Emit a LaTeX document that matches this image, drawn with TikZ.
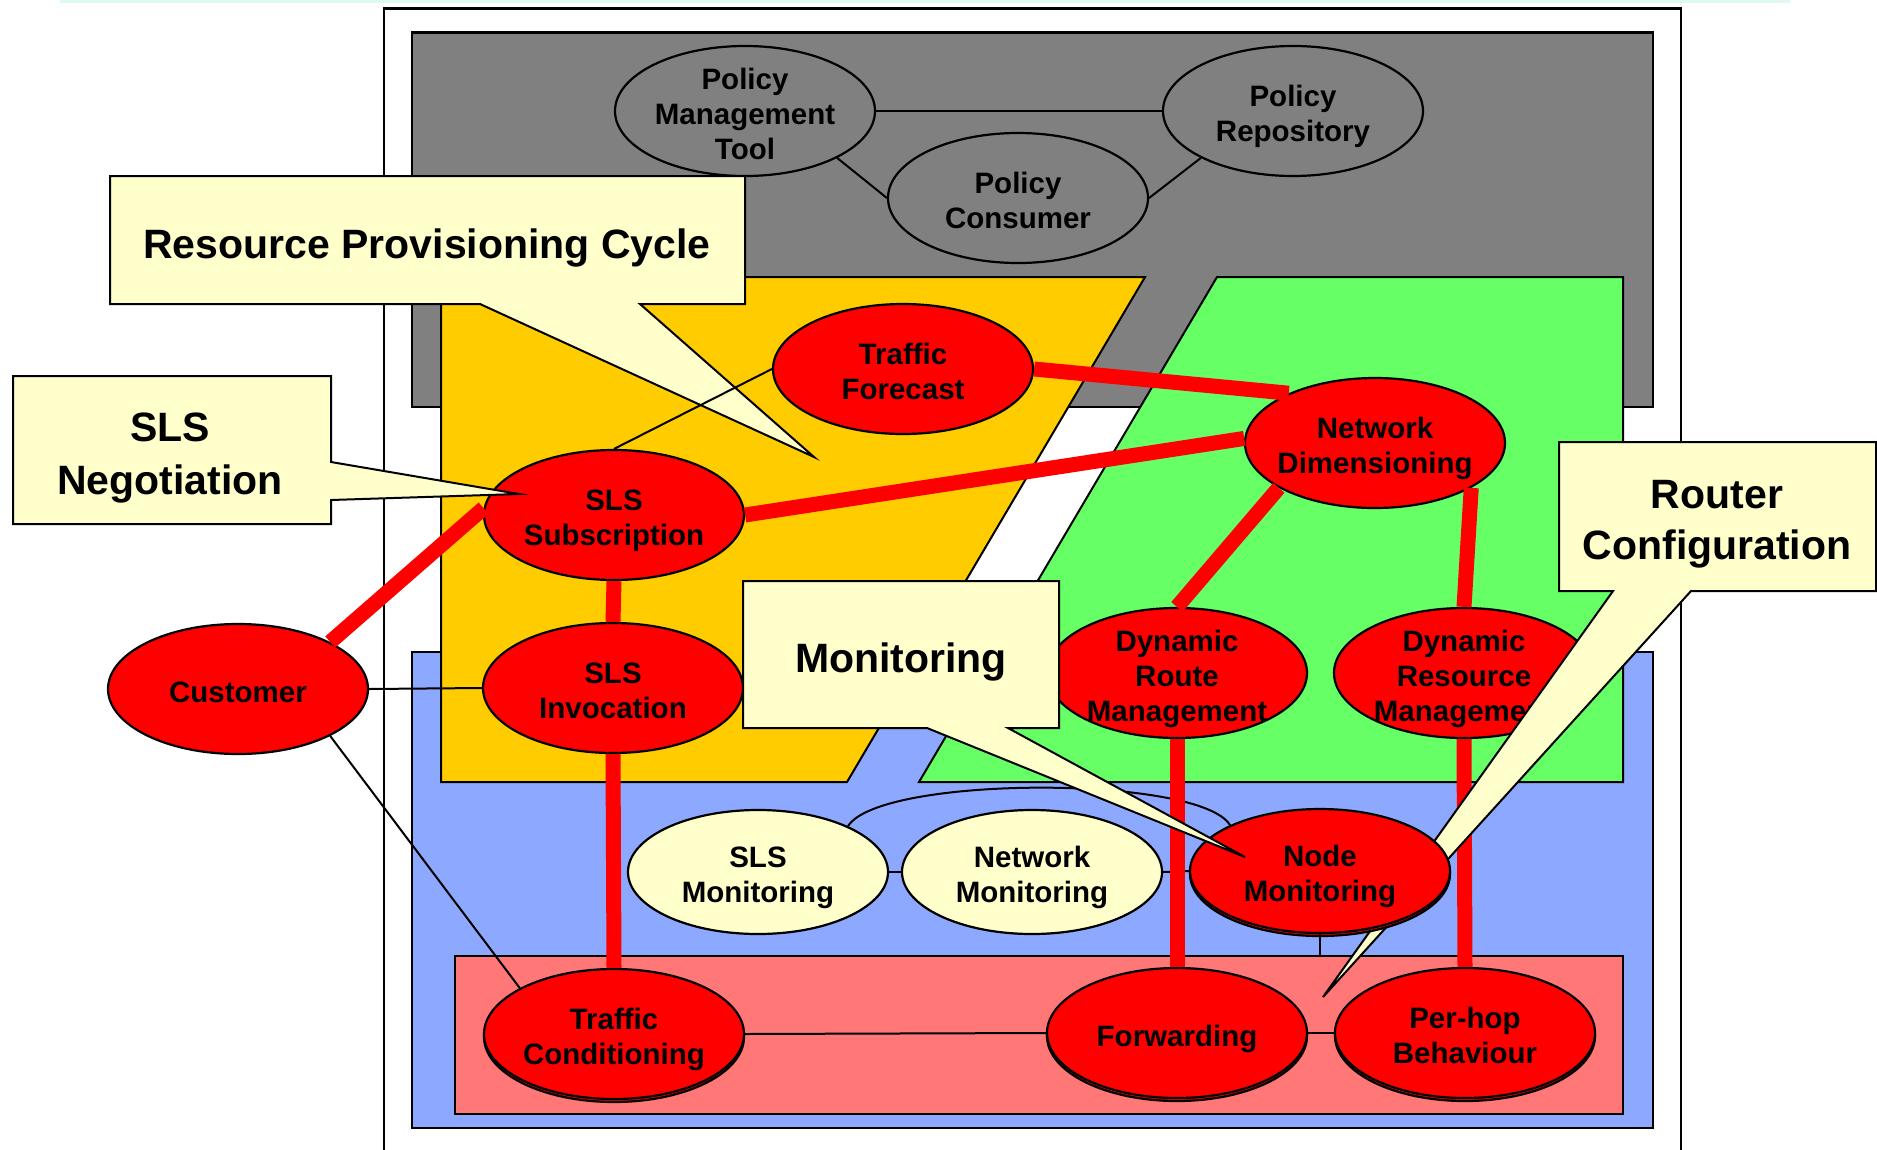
\documentclass[tikz,border=0pt]{standalone}
\usepackage{fontspec}
\setmainfont{Liberation Sans}
\usetikzlibrary{shapes.geometric,shadows}
\definecolor{grayfill}{HTML}{808080}
\definecolor{yel}{HTML}{FFCC00}
\definecolor{grn}{HTML}{66FF66}
\definecolor{blu}{HTML}{8DA9FF}
\definecolor{pnk}{HTML}{FF7777}
\definecolor{crm}{HTML}{FFFFCC}
\definecolor{cyanline}{HTML}{E0F8F4}
\newcommand\lnstrut{\rule[-0.212em]{0pt}{1.117em}}
\begin{document}
\begin{tikzpicture}[x=1pt,y=-1pt,
  ell/.style={ellipse, draw=black, line width=2.2pt, minimum width=260pt, minimum height=130pt, inner sep=0pt},
  redell/.style={ell, fill=red},
  lowell/.style={minimum height=124pt},
  shad/.style={copy shadow={shadow xshift=0pt, shadow yshift=-3pt}},
  etxt/.style={font=\fontsize{29.5}{35}\selectfont\bfseries, align=center, inner sep=0pt, text=black, yshift=-3pt},
  ctxt/.style={font=\fontsize{41}{51}\selectfont\bfseries, align=center, inner sep=0pt, text=black, yshift=-4pt},
  callout/.style={fill=crm, draw=black, line width=2pt, line join=miter},
  thinlink/.style={draw=black, line width=2pt},
  redlink/.style={draw=red, line width=15pt},
  panel/.style={draw=black, line width=2pt}]
\useasboundingbox (0,0) rectangle (1877,1149);
\fill[white] (0,0) rectangle (1877,1149);
\begin{scope}
\clip (0,0) rectangle (1877,1149);
% panels
\draw[cyanline, line width=3pt] (60,1) -- (1790,1);
\draw[line width=2pt] (384,1160) -- (384,8) -- (1681,8) -- (1681,1160);
\draw[line width=3pt] (384,8) -- (1681,8);
\draw[panel, fill=grayfill] (412,32) rectangle (1653,407);
\draw[line width=3pt] (412,32) -- (1653,32);
\draw[panel, fill=blu] (412,652) rectangle (1653,1128);
\draw[panel, fill=pnk] (455,956) rectangle (1623,1114);
\draw[panel, fill=yel] (441,277) -- (1145,277) -- (847,782) -- (441,782) -- cycle;
\draw[panel, fill=grn] (1217,277) -- (1623,277) -- (1623,782) -- (919,782) -- cycle;
% policy nodes
\node[ell, fill=grayfill] (pmt) at (745,111) {};
\node[etxt] (pmtT) at (pmt) {\lnstrut Policy\\\lnstrut Management\\\lnstrut Tool};
\node[ell, fill=grayfill] (pr) at (1293,111) {};
\node[etxt] (prT) at (pr) {\lnstrut Policy\\\lnstrut Repository};
\node[ell, fill=grayfill] (pc) at (1018,198) {};
\node[etxt] (pcT) at (pc) {\lnstrut Policy\\\lnstrut Consumer};
\draw[thinlink] (pmt.east) -- (pr.west);
\draw[thinlink] (pmt.-27) -- (pc.west);
\draw[thinlink] (pc.east) -- (pr.207);
% red nodes
\node[redell] (tf) at (903,369) {};
\node[etxt] (tfT) at (tf) {\lnstrut Traffic\\\lnstrut Forecast};
\node[redell] (nd) at (1375,443) {};
\node[etxt] (ndT) at (nd) {\lnstrut Network\\\lnstrut Dimensioning};
\node[redell] (slssub) at (614,515) {};
\node[etxt] (slssubT) at (slssub) {\lnstrut SLS\\\lnstrut Subscription};
\node[redell] (slsinv) at (613,688) {};
\node[etxt] (slsinvT) at (slsinv) {\lnstrut SLS\\\lnstrut Invocation};
\node[redell] (cust) at (238,689) {};
\node[etxt] (custT) at (cust) {\lnstrut Customer};
\node[redell] (drm) at (1177,673) {};
\node[etxt] (drmT) at (drm) {\lnstrut Dynamic\\\lnstrut Route\\\lnstrut Management};
\node[redell] (dresm) at (1464,673) {};
\node[etxt] (dresmT) at (dresm) {\lnstrut Dynamic\\\lnstrut Resource\\\lnstrut Management};
\node[redell, shad] (tc) at (614,1034) {};
\node[etxt] (tcT) at (tc) {\lnstrut Traffic\\\lnstrut Conditioning};
\node[redell, shad] (fwd) at (1177,1033) {};
\node[etxt] (fwdT) at (fwd) {\lnstrut Forwarding};
\node[redell, shad] (phb) at (1465,1033) {};
\node[etxt] (phbT) at (phb) {\lnstrut Per-hop\\\lnstrut Behaviour};
\node[ell, lowell, fill=crm] (slsmon) at (758,872) {};
\node[etxt] (slsmonT) at (slsmon) {\lnstrut SLS\\\lnstrut Monitoring};
\node[ell, lowell, fill=crm] (netmon) at (1032,872) {};
\node[etxt] (netmonT) at (netmon) {\lnstrut Network\\\lnstrut Monitoring};
% thin connectors
\draw[thinlink] (cust.east) -- (slsinv.west);
\draw[thinlink] (cust.-27) -- (tc.154);
\draw[thinlink] (slsmon.east) -- (netmon.west);
\draw[thinlink] (tc.east) -- (fwd.west);
\draw[thinlink] (fwd.east) -- (phb.west);
% thick red connectors
\draw[redlink] (tf.east) -- (nd.150);
\draw[redlink] (slssub.east) -- (nd.178);
\draw[redlink] (cust.27) -- (slssub.177);
\draw[redlink] (slssub.south) -- (slsinv.north);
\draw[redlink] (slsinv.south) -- (tc.north);
\draw[redlink] (nd.205) -- (drm.north);
\draw[redlink] (nd.-25) -- (dresm.north);
\draw[redlink] (dresm.south) -- (phb.north);
% callouts
\draw[callout] (110,176) -- (745,176) -- (745,304) -- (640,304) -- (814,457) -- (480,304) -- (110,304) -- cycle;
\node[ctxt] (rpcT) at (427,240) {\lnstrut Resource Provisioning Cycle};
\draw[callout] (13,376) -- (331,376) -- (331,462) -- (519,494) -- (331,500) -- (331,524) -- (13,524) -- cycle;
\node[ctxt, font=\fontsize{41}{53}\selectfont\bfseries] (slsnT) at (170,450) {\lnstrut SLS\\\lnstrut Negotiation};
\draw[thinlink] (slssub.north) -- (tf.west);
\draw[callout] (1559,442) -- (1876,442) -- (1876,591) -- (1691,591) -- (1323,997) -- (1613,591) -- (1559,591) -- cycle;
\node[ctxt] (rcT) at (1717,516) {\lnstrut Router\\\lnstrut Configuration};
% node monitoring
\node[redell, lowell, shad] (nodemon) at (1320,871) {};
\node[etxt] (nodemonT) at (nodemon) {\lnstrut Node\\\lnstrut Monitoring};
\coordinate (pinktop) at (1320,956);
\draw[thinlink] (nodemon.south) -- (pinktop);
\draw[thinlink] (netmon.east) -- (nodemon.west);
\draw[thinlink] (slsmon.27) .. controls (880,775) and (1200,775) .. (nodemon.153);
\draw[redlink] (drm.south) -- (fwd.north);
\draw[callout] (743,581) -- (1059,581) -- (1059,728) -- (1008,728) -- (1245,857) -- (927,728) -- (743,728) -- cycle;
\node[ctxt] (monT) at (901,654) {\lnstrut Monitoring};
\end{scope}
\end{tikzpicture}
\end{document}
